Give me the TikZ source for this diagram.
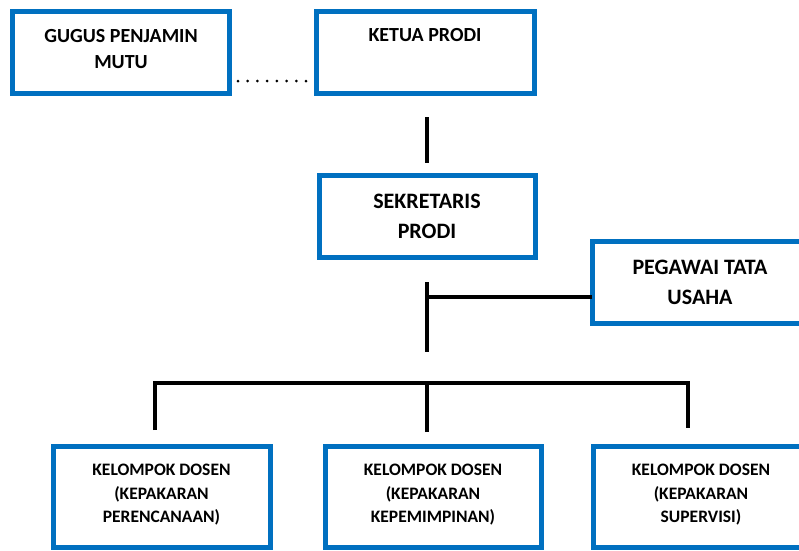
\documentclass[tikz,border=0pt]{standalone}
\usepackage{fontspec}
\setmainfont{Carlito}
\usetikzlibrary{calc}
\definecolor{boxblue}{RGB}{0,112,192}
\tikzset{
  orgbox/.style={draw=boxblue, line width=5pt, rectangle, outer sep=0pt, inner sep=0pt, fill=white},
  txtA/.style={align=center, font=\bfseries\fontsize{20}{26}\selectfont, inner sep=0pt},
  txtB/.style={align=center, font=\bfseries\fontsize{22}{30}\selectfont, inner sep=0pt},
  txtC/.style={align=center, font=\bfseries\fontsize{17.5}{23.5}\selectfont, inner sep=0pt},
  conn/.style={draw=black, line width=3.5pt, line join=miter},
  dotline/.style={draw=black, line width=3pt, line cap=round, dash pattern=on 0pt off 9.714pt}
}
\begin{document}
\begin{tikzpicture}[x=1pt, y=-1pt]
\useasboundingbox (0,0) rectangle (799,550);
\clip (0,0) rectangle (799,550);

\node[orgbox, minimum width=217pt, minimum height=82pt,
  label={[txtA, yshift=3.5pt]center:{GUGUS PENJAMIN\\MUTU}}] (gugus) at (121,52.5) {};
\node[orgbox, minimum width=218pt, minimum height=82pt,
  label={[txtA, yshift=17pt]center:{KETUA PRODI}}] (ketua) at (425,52.5) {};
\node[orgbox, minimum width=216pt, minimum height=81.5pt,
  label={[txtB, yshift=-0.5pt]center:{SEKRETARIS\\PRODI}}] (sekr) at (427,216.25) {};
\node[orgbox, minimum width=216pt, minimum height=82pt,
  label={[txtB]center:{PEGAWAI TATA\\USAHA}}] (pegawai) at (700,282.5) {};
\node[orgbox, minimum width=217pt, minimum height=101pt,
  label={[txtC, yshift=2pt]center:{KELOMPOK DOSEN\\(KEPAKARAN\\PERENCANAAN)}}] (k1) at (161.5,497) {};
\node[orgbox, minimum width=216pt, minimum height=101pt,
  label={[txtC, yshift=2pt]center:{KELOMPOK DOSEN\\(KEPAKARAN\\KEPEMIMPINAN)}}] (k2) at (433,497) {};
\node[orgbox, minimum width=216pt, minimum height=101pt,
  label={[txtC, yshift=2pt]center:{KELOMPOK DOSEN\\(KEPAKARAN\\SUPERVISI)}}] (k3) at (701,497) {};

% dotted link
\draw[dotline] ($(gugus.east)+(8.5,28.5)$) -- ($(ketua.west)+(-10,28.5)$);

% ketua - sekretaris
\draw[conn] ($(ketua.south)+(2,23.5)$) -- ($(sekr.north)+(0,-12.5)$);

% sekretaris down, with pegawai branch
\draw[conn] ($(sekr.south)+(0,25)$) -- ($(sekr.south)+(0,95)$);
\coordinate (tj) at ($(pegawai.west)+(0,14.5)$);
\draw[conn] (tj) -- (tj -| sekr.south);

% bottom bus
\draw[conn] ($(k1.north)+(-6.5,-16.5)$) |- ($(k3.north)+(-13,-63.5)$) -- ($(k3.north)+(-13,-18.5)$);
\draw[conn] ($(k2.north)+(-6,-14.5)$) -- ($(k2.north)+(-6,-63.5)$);
\end{tikzpicture}
\end{document}
